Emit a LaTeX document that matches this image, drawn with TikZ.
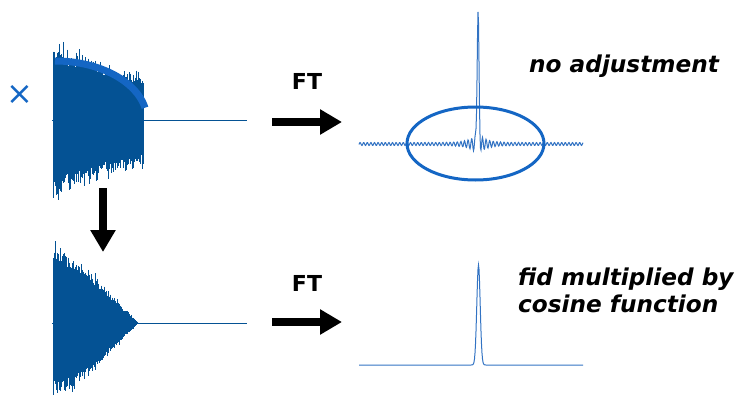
\documentclass[tikz,border=0pt]{standalone}
\usepackage{fontspec}
\setmainfont{DejaVu Sans}
\usetikzlibrary{arrows.meta,shapes.geometric}
\definecolor{fidblue}{RGB}{4,82,148}
\definecolor{brightblue}{RGB}{20,102,196}
\definecolor{specblue}{RGB}{50,115,195}
\tikzset{
  bigarrow/.style={line width=8pt,-{Triangle[length=22pt,width=24pt]}},
  captiontext/.style={font=\fontsize{23.2}{27}\selectfont\bfseries\itshape, inner sep=0pt},
  ftlabel/.style={font=\fontsize{22}{27}\selectfont\bfseries, inner sep=0pt},
  spec/.style={specblue, line width=1pt},
  fidline/.style={fidblue, line width=0.9pt},
  flatline/.style={fidblue, line width=1pt},
}
\begin{document}
\begin{tikzpicture}[x=1pt,y=-1pt]
\useasboundingbox (0,0) rectangle (740,399);
\pgfmathsetseed{7}
% top FID (truncated)
\foreach \x in {53,53.5,...,143}{
  \pgfmathsetmacro\amp{64*exp(-0.006*(\x-53))}
  \pgfmathsetmacro\ra{rnd}\pgfmathsetmacro\rb{rnd}
  \pgfmathsetmacro\rc{rnd}\pgfmathsetmacro\rd{rnd}
  \pgfmathsetmacro\up{120-\amp*(0.85+0.25*\ra+0.25*\rb^4)}
  \pgfmathsetmacro\dn{120+\amp*(0.85+0.25*\rc+0.25*\rd^4)}
  \draw[fidline] (\x,\up) -- (\x,\dn);
}
\coordinate (f1a) at (52,120);
\coordinate (f1b) at (247,120);
\draw[flatline] (f1a) -- (f1b);
% cosine envelope
\draw[brightblue, line width=7pt] plot[domain=90:12, samples=60] ({55+92*cos(\x)},{120-59*sin(\x)});
% multiplication sign
\node[text=brightblue, font=\fontsize{32}{32}\selectfont, inner sep=0pt] (times) at (20,95) {×};
% bottom FID (apodised)
\foreach \x in {53,53.5,...,138}{
  \pgfmathsetmacro\amp{65*exp(-0.004*(\x-53))*cos(90*(\x-53)/85.5)}
  \pgfmathsetmacro\ra{rnd}\pgfmathsetmacro\rb{rnd}
  \pgfmathsetmacro\rc{rnd}\pgfmathsetmacro\rd{rnd}
  \pgfmathsetmacro\up{323-\amp*(0.85+0.25*\ra+0.2*\rb^4)}
  \pgfmathsetmacro\dn{323+\amp*(0.85+0.25*\rc+0.2*\rd^4)}
  \draw[fidline] (\x,\up) -- (\x,\dn);
}
\coordinate (f2a) at (52,323);
\coordinate (f2b) at (247,323);
\draw[flatline] (f2a) -- (f2b);
% down arrow
\coordinate (d1) at (103,188);
\coordinate (d2) at (103,252);
\draw[bigarrow] (d1) -- (d2);
% FT arrows
\coordinate (a1s) at (272,122);
\coordinate (a1e) at (342,122);
\draw[bigarrow] (a1s) -- (a1e);
\coordinate (a2s) at (272,322);
\coordinate (a2e) at (342,322);
\draw[bigarrow] (a2s) -- (a2e);
\node[ftlabel, anchor=base] (ft1) at (307,89) {FT};
\node[ftlabel, anchor=base] (ft2) at (307,291) {FT};
% top spectrum
\draw[spec] plot[domain=359:583, samples=449]
  (\x,{144 - 132*exp(max(-40,-((\x-478)/1.3)^2)) - (1.5+9*exp(-abs(\x-478)/8))*sin(100*(\x-478))});
% ellipse
\node[draw=brightblue, line width=3pt, ellipse, minimum width=137pt, minimum height=73pt, inner sep=0pt] (ell) at (475.5,143.5) {};
% bottom spectrum
\draw[spec] plot[domain=359:583, samples=449]
  (\x,{365 - 100*exp(max(-40,-((\x-478.5)/2.4)^2))});
% texts
\node[captiontext, anchor=base west] (noadj) at (529,72) {no adjustment};
\node[captiontext, anchor=base west, align=left] (fidmul) at (518,312) {fid multiplied by\\cosine function};
\end{tikzpicture}
\end{document}
